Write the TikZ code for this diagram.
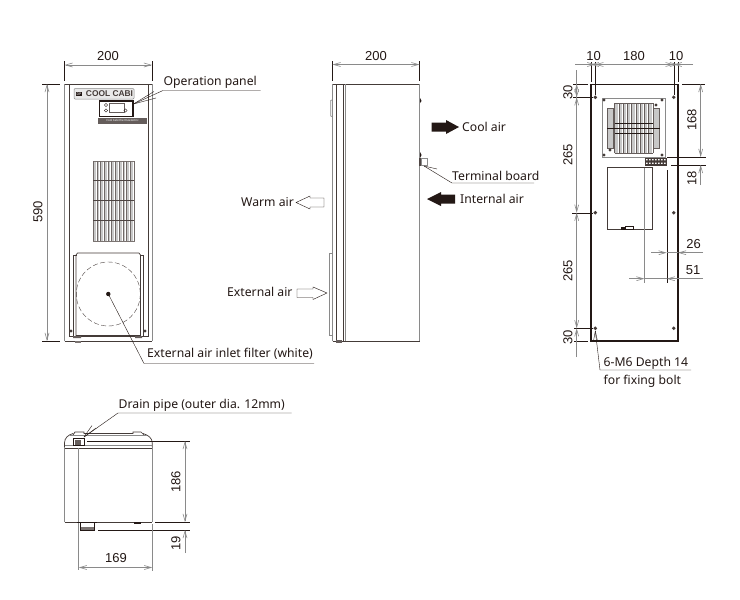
\documentclass[tikz,border=0pt]{standalone}
\usepackage{fontspec}
\setmainfont{Noto Sans}
\newfontfamily\dimfont{Liberation Sans}
\usetikzlibrary{arrows.meta}
\definecolor{dimc}{HTML}{8A8A8A}
\definecolor{inkc}{HTML}{231815}
\definecolor{finc}{HTML}{C8C8C8}
\tikzset{
  x=1pt,y=-1pt,
  dimline/.style={draw=dimc,line width=0.6pt,{Straight Barb[length=7pt,width=4pt]}-{Straight Barb[length=7pt,width=4pt]}},
  dimin/.style={draw=dimc,line width=0.6pt,-{Straight Barb[length=7pt,width=4pt]}},
  ext/.style={draw=inkc,line width=0.4pt},
  lead/.style={draw=inkc,line width=0.4pt},
  body/.style={draw=inkc!85,line width=0.7pt},
  bodyg/.style={draw=dimc,line width=0.7pt},
  heavy/.style={draw=inkc,line width=1.2pt},
  dimt/.style={font=\dimfont\fontsize{13}{14}\selectfont,text=inkc,inner sep=0pt},
  lab/.style={font=\fontsize{12.2}{14}\selectfont,text=inkc,inner sep=0pt,anchor=base west},
  hole/.style={fill=inkc!85,draw=none},
  blk/.style={fill=inkc,draw=none},
  wht/.style={fill=white,draw=inkc,line width=0.4pt},
}
\begin{document}
\begin{tikzpicture}
\useasboundingbox (0,0) rectangle (740,600);
\fill[white] (0,0) rectangle (740,600);

% ---------- FRONT VIEW ----------
\draw[bodyg] (64.5,84) -- (64.5,341);
\draw[bodyg] (152,84) -- (152,341);
\draw[body] (64.5,84) -- (152,84);
\draw[body] (64.5,341) -- (152,341);
\draw[body] (69,84) -- (69,337);
\draw[body] (148,84) -- (148,337);
\draw[body] (69,336.5) -- (148,336.5);
\fill[inkc!60] (75,341) rectangle (81,343);
% logo
\draw[draw=dimc,fill=finc!40,line width=0.5pt,rounded corners=1pt] (74,88.5) rectangle (134,99);
\node[fill=inkc,text=white,inner sep=0.5pt,font=\fontsize{3.5}{4}\selectfont] (logoa) at (79,94) {DP};
\node[inner sep=0pt,font=\dimfont\bfseries\fontsize{8.4}{9}\selectfont,text=inkc!85] (logob) at (109.5,94) {COOL CABI};
% panel
\draw[draw=inkc,line width=1.3pt,fill=white] (99.5,101) rectangle (133,116.5);
\draw[draw=inkc!70,line width=0.4pt] (109,103.5) rectangle (124,112);
\foreach \p in {(106,105),(106,110.5),(125.5,110.5)} \draw[inkc,line width=0.4pt] \p circle (1.7);
\fill[inkc!70] (98,117.5) rectangle (147,123.5);
\node[inner sep=0pt,font=\fontsize{2.8}{3}\selectfont,text=white] (logoc) at (122.5,120.5) {Cool Cabi thermoelectric};
% grille
\foreach \i in {0,...,10} \fill[finc] (93.5+\i*3.7,161) rectangle +(2.1,80);
\draw[inkc!60,line width=0.4pt] (93,161) rectangle (134,241);
\foreach \i in {0,...,11} \draw[inkc!65,line width=0.35pt] (93+\i*3.727,161) -- +(0,80);
\draw[inkc!80,line width=0.5pt] (93,180) -- (134,180) (93,200.5) -- (134,200.5) (93,220.5) -- (134,220.5);
% filter
\draw[body] (73.5,336) -- (73.5,255) -- (77,255);
\draw[body] (143,336) -- (143,255) -- (140,255);
\draw[body] (76,336) -- (76,255) -- (77.5,253) -- (139,253) -- (140.5,255) -- (140.5,336);
\draw[body] (76,335) -- (140.5,335);
\draw[draw=inkc!80,line width=0.4pt,dash pattern=on 5pt off 2.5pt] (108.3,294) circle (32);
\coordinate (filterdot) at (108.3,294);
\fill[blk] (filterdot) circle (2.2);
\foreach \p in {(71,331),(145,331)} \fill[hole] \p circle (1.6);
\fill[inkc!70] (73,336) rectangle (81,338) (135,336) rectangle (142,338);
% dims
\draw[ext] (64.5,61) -- (64.5,81) (152,61) -- (152,81);
\draw[dimline] (64.5,65) -- (152,65);
\node[dimt] (d200a) at (108,56.5) {200};
\draw[ext] (42,84) -- (60,84) (42,341) -- (60,341);
\draw[dimline] (47,84) -- (47,341);
\node[dimt,rotate=90] (d590) at (38,212) {590};
% labels
\node[lab] (oplab) at (163.5,85.5) {Operation panel};
\coordinate (optip) at (133.5,104);
\coordinate (opk) at (163,90.5);
\draw[lead] (optip) -- (opk) -- (260.5,90.5);
\draw[lead] (optip) -- (156,98);
\draw[lead] (optip) -- (154,91.5);
\node[lab] (filterlab) at (147,357.5) {External air inlet filter (white)};
\coordinate (filterk) at (144,363.5);
\draw[lead] (filterdot) -- (filterk) -- (314,363.5);

% ---------- SIDE VIEW ----------
\draw[body] (332.5,84) -- (419.5,84);
\draw[body] (332.5,341) -- (419.5,341);
\draw[bodyg] (332.5,84) -- (332.5,341);
\draw[body] (336.7,84) -- (336.7,341);
\draw[body] (343.3,84) -- (343.3,341);
\draw[bodyg] (345.5,84) -- (345.5,341);
\draw[bodyg] (419.5,84) -- (419.5,341);
\draw[bodyg] (332,100) -- (330.8,100.5) -- (330.8,116) -- (332,116.5);
\draw[bodyg] (332.5,253) -- (329.5,253) -- (329.5,335) -- (332.5,335);
\fill[blk] (420,98) -- (421.5,101) -- (420,103) -- cycle;
\fill[blk] (420,152) -- (421.5,155) -- (420,158) -- cycle;
\fill[inkc!80] (419,158) rectangle (421,166);
\draw[draw=dimc,line width=0.5pt] (421,158.5) rectangle (427,165);
\fill[inkc!70] (336,340) rectangle (342,342.5);
\draw[ext] (332.5,61) -- (332.5,81) (419.5,61) -- (419.5,81);
\draw[dimline] (332.5,64.5) -- (419.5,64.5);
\node[dimt] (d200b) at (376,56.5) {200};
% air arrows
\fill[blk] (431.5,122.5) -- (446,122.5) -- (446,120) -- (459,127) -- (446,134) -- (446,131.5) -- (431.5,131.5) -- cycle;
\fill[blk] (455,194.5) -- (441,194.5) -- (441,192) -- (427,199) -- (441,206) -- (441,203.5) -- (455,203.5) -- cycle;
\draw[wht] (324,198) -- (310,198) -- (310,196) -- (296,202.5) -- (310,209) -- (310,207) -- (324,207) -- cycle;
\draw[wht] (297,289) -- (313,289) -- (313,287) -- (327,293) -- (313,299.5) -- (313,297.5) -- (297,297.5) -- cycle;
\node[lab] (coollab) at (462,131) {Cool air};
\node[lab] (intlab) at (460,203) {Internal air};
\node[lab] (warmlab) at (241,206) {Warm air};
\node[lab] (extlab) at (227,296.5) {External air};
\node[lab] (termlab) at (452,180.5) {Terminal board};
\coordinate (termtip) at (424,166);
\coordinate (termk) at (452,183);
\draw[lead] (termtip) -- (termk) -- (534,183);
\draw[lead] (termtip) -- (437,169);

% ---------- REAR VIEW ----------
\draw[heavy] (591,84.5) rectangle (678,341);
% fan plate
\draw[draw=dimc,line width=0.9pt] (602,98.5) rectangle (665,157);
\foreach \i in {0,...,8} \fill[finc] (615+\i*4.25,103) rectangle +(2.7,50);
\foreach \i in {0,...,9} \draw[inkc!70,line width=0.3pt] (614.5+\i*4.25,103) -- +(0,50);
\draw[inkc!70,line width=0.4pt] (614.5,103) -- (652.5,103) (614.5,153) -- (652.5,153);
\fill[finc] (607,108) rectangle (613.5,148) (653,108) rectangle (659.5,148);
\draw[inkc!70,line width=0.3pt] (607,108) rectangle (613.5,148) (653,108) rectangle (659.5,148);
\draw[inkc,line width=0.4pt] (607,128) -- (659.5,128);
\draw[inkc,line width=0.4pt] (614.5,123) -- (652.5,123) (614.5,133) -- (652.5,133);
\foreach \p in {(604,100),(662,100),(604,155),(662,155),(656,105),(610,150)} \fill[hole] \p circle (1.7);
% terminal block
\fill[inkc!85] (644.5,157.5) rectangle (667,165.5);
\foreach \i in {0,...,6} \fill[white] (646+\i*3,159) rectangle +(1.6,1.4) (646+\i*3,162.5) rectangle +(1.6,1.4);
% box
\draw[body,line width=1pt] (607.5,167.5) rectangle (652,229);
\draw[ext,fill=white] (625,226) rectangle (633,229);
\draw[ext,fill=inkc] (621,227) rectangle (625,229);
\draw[dimc,line width=0.5pt] (644.5,168) -- (644.5,283);
\draw[ext] (666.7,170) -- (666.7,283);
\foreach \p in {(595.3,97.3),(673.7,97.3),(595.3,212.7),(673.7,212.7),(595.3,328.3),(673.7,328.3)} \fill[hole] \p circle (1.9);
% dims top
\draw[ext] (590.8,62) -- (590.8,82) (678,62) -- (678,82);
\draw[ext] (595.3,62) -- (595.3,95) (673.7,62) -- (673.7,95);
\draw[dimin] (575,64.5) -- (595.3,64.5);
\draw[dimin] (611,64.5) -- (590.8,64.5);
\draw[dimin] (611,64.5) -- (673.7,64.5);
\draw[dimin] (611,64.5) -- (595.3,64.5);
\draw[dimin] (693,64.5) -- (673.7,64.5);
\draw[dimin] (660,64.5) -- (678,64.5);
\node[dimt] (d10a) at (593.5,56) {10};
\node[dimt] (d180) at (634,56) {180};
\node[dimt] (d10b) at (676,56) {10};
% dims left
\draw[ext] (573,84) -- (588,84) (573,97.3) -- (593,97.3) (572,212.7) -- (593,212.7) (574,328.3) -- (593,328.3) (574,341) -- (588,341);
\draw[dimin] (576.7,70) -- (576.7,97.3);
\draw[dimin] (576.7,113) -- (576.7,84);
\draw[dimline] (576.7,97.3) -- (576.7,212.7);
\draw[dimline] (576.7,212.7) -- (576.7,328.3);
\draw[dimin] (576.7,357) -- (576.7,328.3);
\node[dimt,rotate=90] (d30a) at (568,92) {30};
\node[dimt,rotate=90] (d265a) at (568,155) {265};
\node[dimt,rotate=90] (d265b) at (568,271) {265};
\node[dimt,rotate=90] (d30b) at (568,337) {30};
% dims right
\draw[ext] (682,84) -- (705,84) (667,157) -- (706,157) (671,165) -- (706,165);
\draw[dimline] (700.7,84) -- (700.7,157);
\draw[dimin] (700.7,185) -- (700.7,165);
\node[dimt,rotate=90] (d168) at (692,120) {168};
\node[dimt,rotate=90] (d18) at (692,178) {18};
% 26 / 51
\draw[dimin] (651,252.7) -- (666.7,252.7);
\draw[dimin] (703,252.7) -- (678,252.7);
\draw[draw=dimc,line width=0.6pt] (666.7,252.7) -- (678,252.7);
\node[dimt] (d26) at (693.5,244) {26};
\draw[dimin] (629,278.7) -- (644.5,278.7);
\draw[dimin] (703,278.7) -- (666.7,278.7);
\draw[draw=dimc,line width=0.6pt] (644.5,278.7) -- (666.7,278.7);
\node[dimt] (d51) at (693,270) {51};
% label
\node[lab] (fixa) at (603.5,366) {6-M6 Depth 14};
\node[lab] (fixb) at (603.5,384) {for fixing bolt};
\coordinate (fixtip) at (595.3,331);
\coordinate (fixk) at (600,370);
\draw[lead] (fixtip) -- (fixk) -- (691,370);
\draw[lead] (fixtip) -- (593.5,341);
\draw[lead] (fixtip) -- (597.5,341);

% ---------- BOTTOM VIEW ----------
\draw[bodyg] (64.5,447) -- (64.5,522);
\draw[bodyg] (152.3,447) -- (152.3,522);
\draw[body] (64.5,447) -- (64.5,443) .. controls (64.5,438) and (68,435) .. (73,433.5);
\draw[body] (152.3,447) -- (152.3,443) .. controls (152.3,438) and (148,435) .. (143,433.5);
\draw[body] (73,435) -- (75,432) -- (84,432) -- (84,433.5) -- (133,433.5) -- (133,432) -- (141,432) -- (144,435);
\draw[bodyg,line width=0.4pt] (70,435.5) -- (147,435.5);
\draw[bodyg] (64.5,445) -- (152.3,445);
\draw[body] (64.5,448) -- (152.3,448);
\draw[body] (64.5,522) -- (152.3,522);
\draw[bodyg] (78.7,448) -- (78.7,570);
\draw[ext,fill=white] (73,438) rectangle (84,445);
\fill[inkc!70] (75,439.5) rectangle (81,444.5);
\draw[draw=inkc,line width=1pt] (77,522.5) -- (97,522.5);
\draw[ext] (80,523) -- (80,530) -- (94,530) -- (94,523);
\fill[inkc!60] (81,527) rectangle (94,530);
\fill[blk] (134,522) rectangle (141,524);
\coordinate (draintip) at (84,437);
\coordinate (draink) at (118,413);
\draw[lead] (draintip) -- (draink) -- (291.5,413);
\draw[lead] (draintip) -- (96,428);
\draw[lead] (draintip) -- (92,425.5);
\node[lab] (drainlab) at (118.5,408) {Drain pipe (outer dia. 12mm)};
% dims
\draw[ext] (87,441) -- (190,441) (155,522) -- (190,522) (98,530) -- (190,530);
\draw[dimline] (185,441) -- (185,522);
\draw[dimin] (185,553) -- (185,530);
\node[dimt,rotate=90] (d186) at (176,482) {186};
\node[dimt,rotate=90] (d19) at (176,543) {19};
\draw[bodyg] (152.3,524) -- (152.3,571);
\draw[dimline] (78.7,567.5) -- (152.3,567.5);
\node[dimt] (d169) at (116,558) {169};
\end{tikzpicture}
\end{document}
